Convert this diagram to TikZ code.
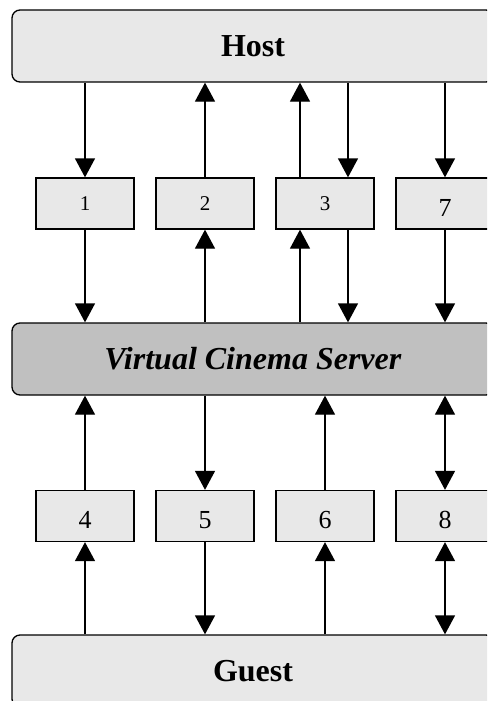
\documentclass[tikz,border=0pt]{standalone}
\usepackage{fontspec}
\setmainfont{Liberation Serif}
\usetikzlibrary{arrows.meta}

\definecolor{lightfill}{HTML}{E8E8E8}
\definecolor{serverfill}{HTML}{C0C0C0}

\begin{document}
\begin{tikzpicture}[
    x=1pt, y=-1pt,
    bigbox/.style={draw=black, line width=1.3pt, rounded corners=8pt, minimum width=482pt, minimum height=72pt, inner sep=0pt},
    smallbox/.style={draw=black, line width=1.3pt, fill=lightfill, minimum width=98pt, minimum height=51pt, inner sep=0pt},
    arr/.style={-{Triangle[width=20pt,length=19pt]}, line width=1.3pt},
    dblarr/.style={{Triangle[width=20pt,length=19pt]}-{Triangle[width=20pt,length=19pt]}, line width=1.3pt},
    bigtext/.style={font=\fontsize{32}{38}\selectfont\bfseries}
  ]

    % Page frame, the right edge cuts the boxes
    \useasboundingbox (0,0) rectangle (487,701);
    \clip (0,0) rectangle (487,701);

    % The three wide boxes
    \node[bigbox, fill=lightfill, bigtext] (host) at (253,46) {Host};
    \node[bigbox, fill=serverfill, bigtext] (vcs) at (253,359) {\textit{Virtual Cinema Server}};
    \node[bigbox, fill=lightfill, bigtext] (guest) at (253,671) {Guest};

    % Upper row of small boxes
    \foreach \n/\x in {1/85, 2/205, 3/325} {
      \node[smallbox, font=\fontsize{21}{25}\selectfont] (b\n) at (\x,203.5) {\n};
    }
    \node[smallbox] (b7) at (445,203.5) {};
    \node[font=\fontsize{26}{31}\selectfont] at ([yshift=-4pt]b7.center) {7};

    % Lower row of small boxes
    \foreach \n/\x in {4/85, 5/205, 6/325, 8/445} {
      \node[smallbox] (b\n) at (\x,516) {};
      \node[font=\fontsize{26}{31}\selectfont] at ([yshift=-4pt]b\n.center) {\n};
    }

    % Host <-> upper row
    \draw[arr] (host.south -| b1) -- (b1);
    \draw[arr] (b2) -- (host.south -| b2);
    \draw[arr] ([xshift=-25pt]b3.north) -- ([xshift=-25pt]b3.north |- host.south);
    \draw[arr] ([xshift=23pt]b3.north |- host.south) -- ([xshift=23pt]b3.north);
    \draw[arr] (host.south -| b7) -- (b7);

    % Upper row <-> server
    \draw[arr] (b1) -- (b1 |- vcs.north);
    \draw[arr] (vcs.north -| b2) -- (b2);
    \draw[arr] ([xshift=-25pt]b3.south |- vcs.north) -- ([xshift=-25pt]b3.south);
    \draw[arr] ([xshift=23pt]b3.south) -- ([xshift=23pt]b3.south |- vcs.north);
    \draw[arr] (b7) -- (b7 |- vcs.north);

    % Server <-> lower row
    \draw[arr] (b4) -- (b4 |- vcs.south);
    \draw[arr] (vcs.south -| b5) -- (b5);
    \draw[arr] (b6) -- (b6 |- vcs.south);
    \draw[dblarr] (vcs.south -| b8) -- (b8);

    % Lower row <-> guest
    \draw[arr] (guest.north -| b4) -- (b4);
    \draw[arr] (b5) -- (b5 |- guest.north);
    \draw[arr] (guest.north -| b6) -- (b6);
    \draw[dblarr] (b8) -- (b8 |- guest.north);

\end{tikzpicture}
\end{document}
